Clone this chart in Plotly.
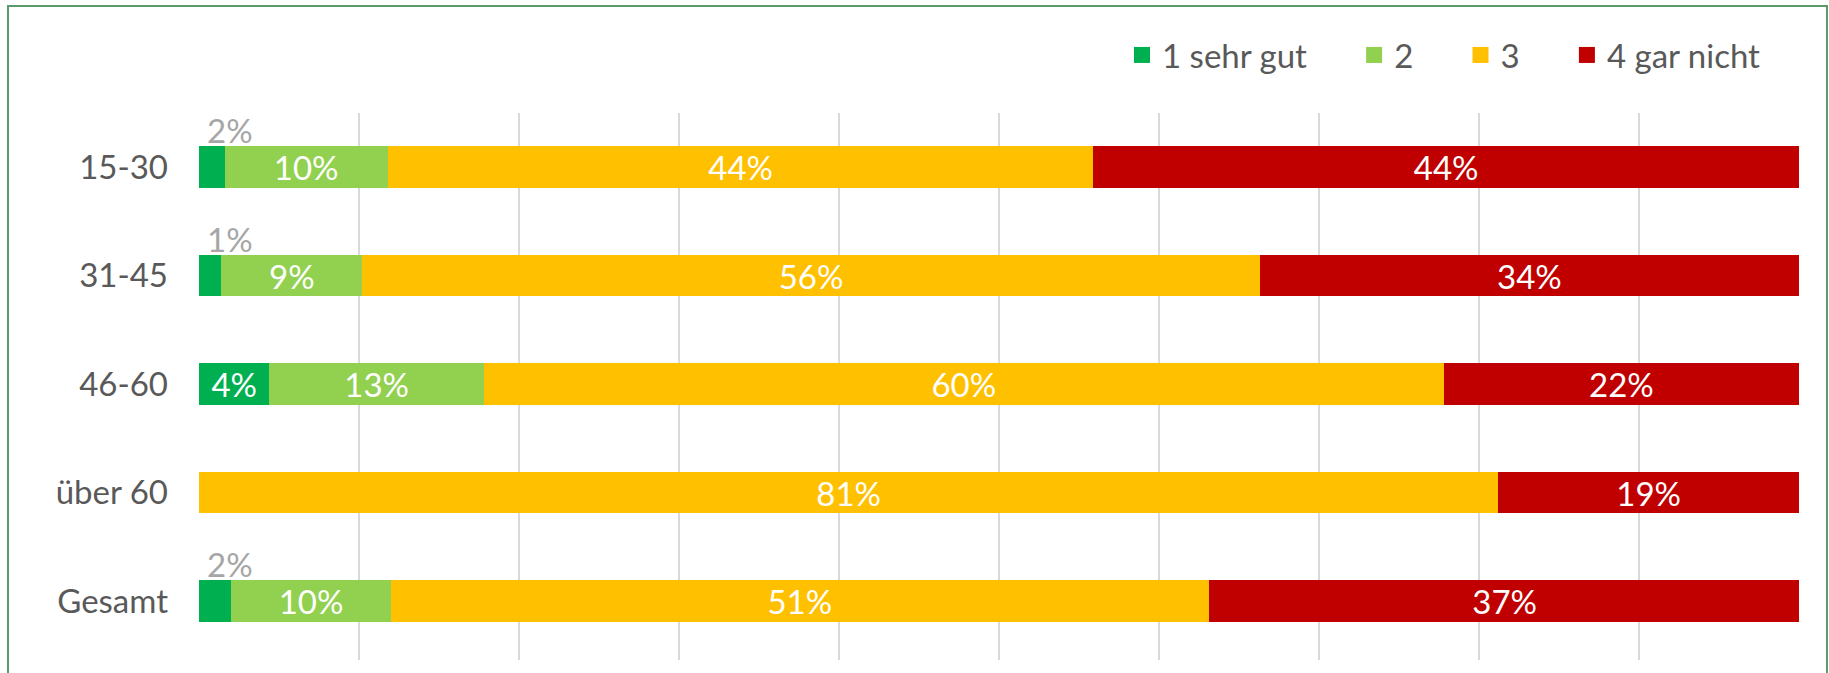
import plotly.graph_objects as go

categories = ["15-30", "31-45", "46-60", "über 60", "Gesamt"]
series_names = ["1 sehr gut", "2", "3", "4 gar nicht"]
v1 = [1.6, 1.4, 4.4, 0.0, 2.0]
v2 = [10.2, 8.8, 13.4, 0.0, 10.0]
v3 = [44.1, 56.1, 60.0, 81.2, 51.1]
v4 = [44.1, 33.7, 22.2, 18.8, 37.0]
colors = ["#00B050", "#92D050", "#FFC000", "#C00000"]

FONT = "Lato"
FS = 33
series = [v1, v2, v3, v4]

fig = go.Figure()
small_labels = []
for i, (name, vals, col) in enumerate(zip(series_names, series, colors)):
    texts = []
    for cat, v in zip(categories, vals):
        if v <= 0:
            texts.append("")
        elif v < 3:
            texts.append("")
            small_labels.append((cat, v))
        else:
            texts.append(f"{round(v):.0f}%")
    fig.add_trace(go.Bar(
        y=categories, x=vals, orientation="h", name=name,
        marker=dict(color=col, line=dict(width=0)),
        text=texts, textposition="inside", insidetextanchor="middle",
        constraintext="none",
        textfont=dict(color="white", size=FS, family=FONT),
        showlegend=False, hoverinfo="skip",
    ))
    pad = "" if i == len(series_names) - 1 else "\u00a0" * 5
    # legend proxy
    fig.add_trace(go.Scatter(
        x=[None], y=[None], mode="markers", name=name + pad,
        marker=dict(symbol="square", size=16, color=col),
        showlegend=True,
    ))

annotations = []
for cat, v in small_labels:
    annotations.append(dict(
        x=0, y=cat, xref="x", yref="y", text=f"{round(v):.0f}%",
        showarrow=False, xanchor="left", yanchor="middle",
        xshift=6, yshift=37,
        font=dict(color="#A6A6A6", size=FS, family=FONT),
    ))

W, H = 1829, 673
ml, mr, mt, mb = 199, 30, 113, 13
pw, ph = W - ml - mr, H - mt - mb

def px_x(px):
    return (px - ml) / pw

def px_y(py):
    return (H - mb - py) / ph

fig.update_layout(
    width=W, height=H,
    barmode="stack", bargap=0.616,
    margin=dict(l=ml, r=mr, t=mt, b=mb),
    paper_bgcolor="white", plot_bgcolor="white",
    font=dict(family=FONT, size=FS, color="#595959"),
    xaxis=dict(range=[0, 100], dtick=10, showgrid=True, gridcolor="#D9D9D9",
               gridwidth=1.5, zeroline=False, showticklabels=False, showline=False,
               fixedrange=True),
    yaxis=dict(autorange="reversed", showgrid=False, zeroline=False, showline=False,
               ticks="", ticklabelstandoff=30,
               tickfont=dict(color="#595959", size=FS, family=FONT)),
    legend=dict(orientation="h", x=px_x(1766), xanchor="right", y=px_y(55), yanchor="middle",
                traceorder="normal",
                font=dict(color="#595959", size=FS, family=FONT),
                itemwidth=30, bgcolor="rgba(0,0,0,0)"),
    annotations=annotations,
    shapes=[dict(type="rect", xref="paper", yref="paper",
                 x0=px_x(8), x1=px_x(1827), y0=px_y(720), y1=px_y(6),
                 line=dict(color="#5B9B6B", width=2), fillcolor="rgba(0,0,0,0)", layer="below")],
)

fig.write_html("out.html")
